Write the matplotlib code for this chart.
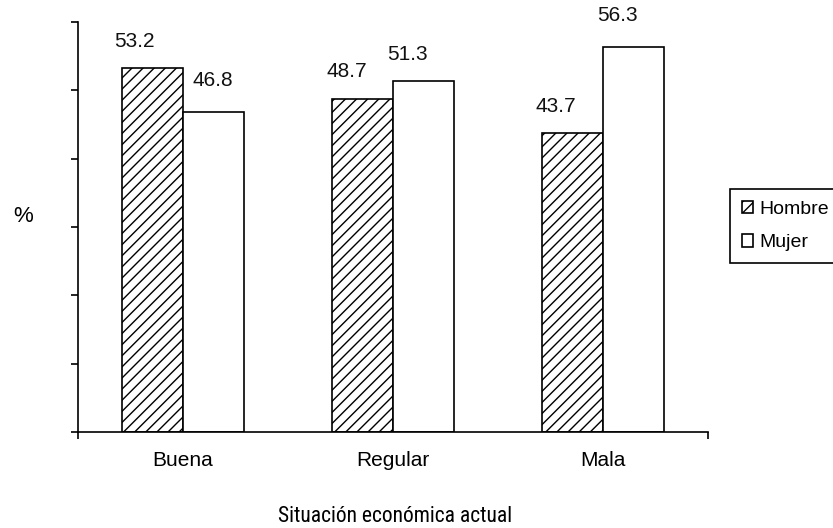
import matplotlib
matplotlib.use("Agg")
import matplotlib.pyplot as plt
from matplotlib import font_manager
import numpy as np

categories = ["Buena", "Regular", "Mala"]
hombre = [53.2, 48.7, 43.7]
mujer = [46.8, 51.3, 56.3]
series_names = ["Hombre", "Mujer"]
x_title = "Situación económica actual"
y_title = "%"

# label offsets (points) from the top centre of each bar
hombre_label_offsets = [(-13, 19.5), (-11.5, 20), (-12, 19.5)]
mujer_label_offsets = [(-0.5, 23), (-11.5, 19.5), (-11.5, 23)]

fonts = font_manager.fontManager.ttflist
installed = {f.name for f in fonts}
base_font = "Liberation Sans" if "Liberation Sans" in installed else "DejaVu Sans"

narrow_font = None
narrow_stretch = "normal"
for cand in ("Liberation Sans Narrow", "Arial Narrow", "Roboto Condensed",
             "Open Sans Condensed", "DejaVu Sans Condensed"):
    if cand in installed:
        narrow_font = cand
        break
if narrow_font is None:
    for f in fonts:
        if f.name == "DejaVu Sans" and str(f.stretch) in ("condensed", "semi-condensed", "600", "700", "500"):
            narrow_font, narrow_stretch = "DejaVu Sans", "condensed"
            break
        if isinstance(f.stretch, int) and f.stretch < 500 and f.name in ("DejaVu Sans", "Noto Sans", "Open Sans"):
            narrow_font, narrow_stretch = f.name, f.stretch
            break
if narrow_font is None:
    narrow_font, title_size = base_font, 14
else:
    title_size = 15.5

plt.rcParams["font.family"] = [base_font, "DejaVu Sans"]
plt.rcParams["hatch.linewidth"] = 1.0

W, H = 833, 528
fig = plt.figure(figsize=(W / 100, H / 100), dpi=100)
ax = fig.add_axes([78 / W, (H - 432) / H, (708 - 78) / W, (432 - 22) / H])

x = np.arange(len(categories))
width = 0.29
b1 = ax.bar(x - width / 2, hombre, width, facecolor="white", edgecolor="black",
            hatch="///", linewidth=1.2, label=series_names[0])
b2 = ax.bar(x + width / 2, mujer, width, facecolor="white", edgecolor="black",
            linewidth=1.2, label=series_names[1])

for bars, vals, offs in ((b1, hombre, hombre_label_offsets),
                         (b2, mujer, mujer_label_offsets)):
    for rect, v, off in zip(bars, vals, offs):
        ax.annotate(f"{v:.1f}", (rect.get_x() + rect.get_width() / 2, v),
                    xytext=off, textcoords="offset points",
                    ha="center", va="center", fontsize=15, color="#111111")

ax.set_xlim(-0.5, len(categories) - 0.5)
ax.set_ylim(0, 60)
ax.set_yticks(np.arange(0, 61, 10))
ax.set_yticklabels([])
ax.tick_params(axis="y", direction="out", length=5, width=1.2, color="black")

ax.set_xticks(x)
ax.set_xticklabels(categories, fontsize=15)
ax.tick_params(axis="x", length=0, pad=14)
ax.set_xticks([-0.5, len(categories) - 0.5], minor=True)
ax.tick_params(axis="x", which="minor", direction="out", length=5, width=1.2)

for side in ("top", "right"):
    ax.spines[side].set_visible(False)
for side in ("left", "bottom"):
    ax.spines[side].set_linewidth(1.2)

fig.text(23 / W, 1 - 217 / H, y_title, ha="center", va="center", fontsize=16)
fig.text(395 / W, 1 - 516 / H, x_title, ha="center", va="center",
         fontsize=title_size, family=[narrow_font, "DejaVu Sans"],
         fontstretch=narrow_stretch)

leg = fig.legend(handles=[b1, b2], labels=series_names,
                 loc="upper left", bbox_to_anchor=(730 / W, 1 - 189 / H),
                 frameon=True, fancybox=False, framealpha=1, fontsize=14,
                 handlelength=0.6, handleheight=0.6, handletextpad=0.3,
                 borderpad=0.6, labelspacing=0.85, borderaxespad=0)
leg.get_frame().set_edgecolor("black")
leg.get_frame().set_linewidth(1.2)

fig.savefig("out.png", dpi=100)
